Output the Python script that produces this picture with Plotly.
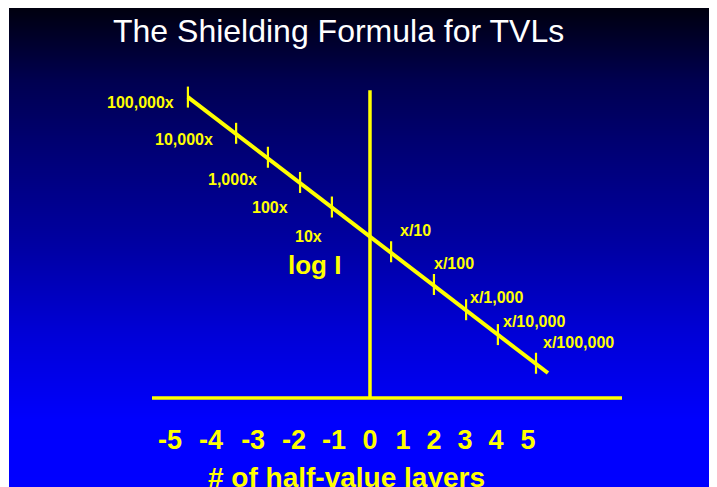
import plotly.graph_objects as go

# ---- data (units: half-value layers on x, log I on y) ----
hvl_tick_labels = ["-5", "-4", "-3", "-2", "-1", "0", "1", "2", "3", "4", "5"]
hvl_tick_pos = [-6.35, -5.05, -3.71, -2.41, -1.14, 0.0, 1.05, 2.03, 3.02, 4.0, 5.02]

line_x = [-5.78, 5.65]
line_y = [4.41, -4.35]

mark_x = [-5.78, -4.25, -3.24, -2.22, -1.21, 0.67, 2.03, 3.05, 4.06, 5.27]
mark_y = [4.41, 3.26, 2.50, 1.70, 0.92, -0.50, -1.54, -2.34, -3.13, -4.04]

left_labels = ["100,000x", "10,000x", "1,000x", "100x", "10x"]
right_labels = ["x/10", "x/100", "x/1,000", "x/10,000", "x/100,000"]

vaxis_x = [0.0, 0.0]
vaxis_y = [4.63, -5.14]
haxis_x = [-6.92, 8.0]
haxis_y = [-5.14, -5.14]

bg_y = [0, 1]
bg_z = [[0, 0], [1, 1]]

# ---- layout helpers (label anchor positions) ----
left_pos = [(-7.30, 4.25), (-5.90, 3.05), (-4.35, 1.78), (-3.17, 0.89), (-1.94, 0.00)]
right_pos = [(1.43, 0.16), (2.67, -0.86), (4.03, -1.94), (5.21, -2.70), (6.63, -3.37)]

YEL = "#ffff00"
FONT = "Liberation Sans, Arial, sans-serif"

fig = go.Figure()

fig.add_trace(go.Heatmap(
    x=[0, 1], y=bg_y, z=bg_z, zsmooth="best", showscale=False, hoverinfo="skip",
    colorscale=[[0, "#0000ff"], [0.154, "#0000fd"], [0.339, "#0000d5"], [0.503, "#0000a5"],
                [0.708, "#000075"], [0.852, "#000050"], [1, "#00000f"]],
    xaxis="x", yaxis="y"))

line_style = dict(color=YEL, width=3.5)
fig.add_trace(go.Scatter(x=vaxis_x, y=vaxis_y, mode="lines", line=line_style,
                         xaxis="x2", yaxis="y2", hoverinfo="skip"))
fig.add_trace(go.Scatter(x=haxis_x, y=haxis_y, mode="lines", line=line_style,
                         xaxis="x2", yaxis="y2", hoverinfo="skip"))
fig.add_trace(go.Scatter(x=line_x, y=line_y, mode="lines", line=dict(color=YEL, width=4),
                         xaxis="x2", yaxis="y2", hoverinfo="skip"))
fig.add_trace(go.Scatter(x=mark_x, y=mark_y, mode="markers",
                         marker=dict(symbol="line-ns", size=15, line=dict(color=YEL, width=2.2)),
                         xaxis="x2", yaxis="y2", hoverinfo="skip"))

ann = []
for t, (x, y) in zip(left_labels + right_labels, left_pos + right_pos):
    ann.append(dict(x=x, y=y, xref="x2", yref="y2", text=t, showarrow=False,
                    xanchor="center", yanchor="middle",
                    font=dict(family=FONT, size=16, color=YEL, weight="bold")))
ann.append(dict(x=-1.75, y=-0.92, xref="x2", yref="y2", text="log I", showarrow=False,
                xanchor="center", yanchor="middle",
                font=dict(family=FONT, size=26, color=YEL, weight="bold")))
ann.append(dict(x=-0.75, y=-7.68, xref="x2", yref="y2", text="# of half-value layers",
                showarrow=False, xanchor="center", yanchor="middle",
                font=dict(family=FONT, size=28, color=YEL, weight="bold")))
ann.append(dict(x=0.460, y=0.952, xref="paper", yref="paper",
                text="The Shielding Formula for TVLs", showarrow=False,
                xanchor="center", yanchor="middle",
                font=dict(family=FONT, size=32, color="#ffffff")))

fig.update_layout(
    width=717, height=487,
    margin=dict(l=1, r=0, t=0, b=0),
    paper_bgcolor="#ffffff", plot_bgcolor="#0000ff",
    showlegend=False,
    annotations=ann,
    xaxis=dict(range=[0, 1], visible=False, fixedrange=True),
    yaxis=dict(range=[0, 1], visible=False, fixedrange=True),
    xaxis2=dict(range=[-11.46, 11.27], overlaying="x", anchor="free", position=0.152,
                showline=False, showgrid=False, zeroline=False, ticks="",
                tickmode="array", tickvals=hvl_tick_pos, ticktext=hvl_tick_labels,
                tickfont=dict(family=FONT, size=27, color=YEL, weight="bold")),
    yaxis2=dict(range=[-8.222, 7.238], overlaying="y", visible=False),
)

fig.write_html("out.html")
